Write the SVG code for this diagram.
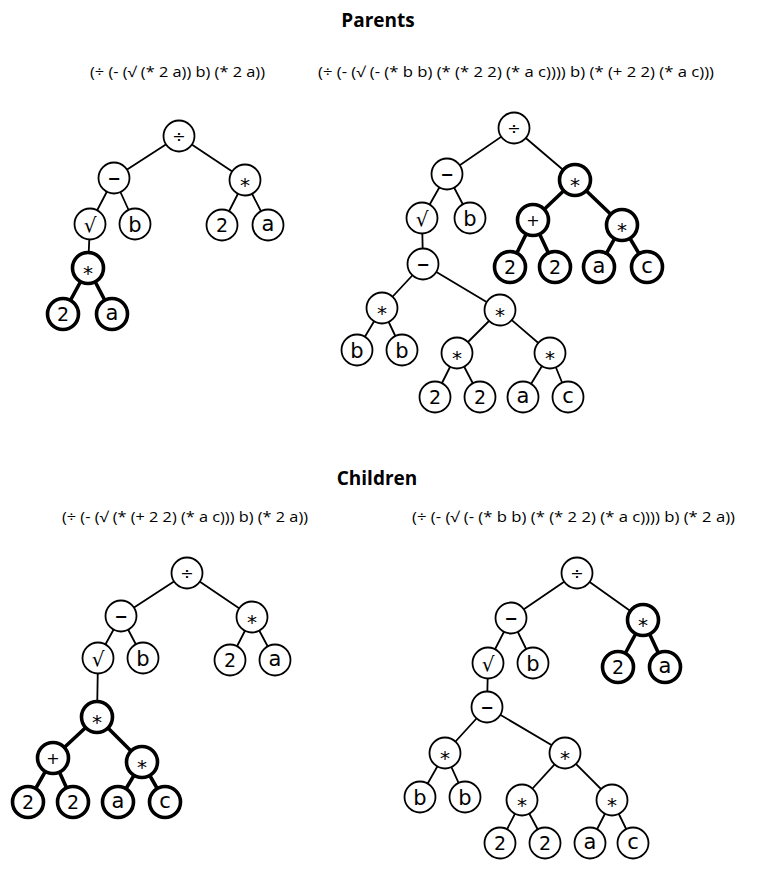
<svg xmlns="http://www.w3.org/2000/svg" width="763" height="876" viewBox="0 0 763 876">
<style>
.title{font-family:"Open Sans","Liberation Sans",sans-serif;font-weight:bold;font-size:19px;text-anchor:middle;fill:#000}
.expr{font-family:"Open Sans","Liberation Sans",sans-serif;font-size:14px;fill:#000}
.e line{stroke:#000;stroke-width:1.8;stroke-linecap:round}
.e line.b{stroke-width:3.6}
.n{stroke-width:1.8}
.n.b{stroke-width:3.6}
.nc{fill:#fff;stroke:#000}
.nt{font-family:"DejaVu Sans",sans-serif;text-anchor:middle;fill:#000;stroke:none}
.d{font-size:19px}
.l{font-size:21px}
.s{font-size:20px}
.o{font-size:16px}
.r{font-size:20px}
</style>
<defs>
<g id="k2"><circle class="nc" r="15.5"/><text class="nt d" y="7">2</text></g>
<g id="ka"><circle class="nc" r="15.5"/><text class="nt l" y="6">a</text></g>
<g id="kb"><circle class="nc" r="15.5"/><text class="nt l" y="7.5">b</text></g>
<g id="kc"><circle class="nc" r="15.5"/><text class="nt l" y="6">c</text></g>
<g id="kmul"><circle class="nc" r="15.5"/><text class="nt s" y="12">*</text></g>
<g id="kdiv"><circle class="nc" r="15.5"/><text class="nt o" y="5.5">÷</text></g>
<g id="ksub"><circle class="nc" r="15.5"/><text class="nt o" y="5.5" font-weight="bold">−</text></g>
<g id="kadd"><circle class="nc" r="15.5"/><text class="nt o" y="5.5">+</text></g>
<g id="ksqrt"><circle class="nc" r="15.5"/><text class="nt r" y="7.5">√</text></g>
</defs>
<rect width="763" height="876" fill="#fff"/>

<text class="title" x="378" y="27">Parents</text>
<text class="expr" x="90" y="77" textLength="175" lengthAdjust="spacingAndGlyphs">(÷ (- (√ (* 2 a)) b) (* 2 a))</text>
<text class="expr" x="318" y="77" textLength="396" lengthAdjust="spacingAndGlyphs">(÷ (- (√ (- (* b b) (* (* 2 2) (* a c)))) b) (* (+ 2 2) (* a c)))</text>
<text class="title" x="377" y="485">Children</text>
<text class="expr" x="62" y="522" textLength="246" lengthAdjust="spacingAndGlyphs">(÷ (- (√ (* (+ 2 2) (* a c))) b) (* 2 a))</text>
<text class="expr" x="412" y="522" textLength="323" lengthAdjust="spacingAndGlyphs">(÷ (- (√ (- (* b b) (* (* 2 2) (* a c)))) b) (* 2 a))</text>

<g id="connectors" class="e">
<line x1="179" y1="136" x2="114" y2="178"/>
<line x1="179" y1="136" x2="245" y2="180"/>
<line x1="114" y1="178" x2="90" y2="224"/>
<line x1="114" y1="178" x2="135" y2="224"/>
<line x1="245" y1="180" x2="222" y2="225"/>
<line x1="245" y1="180" x2="268" y2="225"/>
<line x1="90" y1="224" x2="88" y2="268"/>
<line class="b" x1="88" y1="268" x2="63" y2="314"/>
<line class="b" x1="88" y1="268" x2="112" y2="314"/>
<line x1="514" y1="128" x2="447" y2="174"/>
<line x1="514" y1="128" x2="575" y2="180"/>
<line x1="447" y1="174" x2="422" y2="218"/>
<line x1="447" y1="174" x2="470" y2="218"/>
<line class="b" x1="575" y1="180" x2="533" y2="220"/>
<line class="b" x1="575" y1="180" x2="622" y2="225"/>
<line class="b" x1="533" y1="220" x2="510" y2="267"/>
<line class="b" x1="533" y1="220" x2="555" y2="267"/>
<line class="b" x1="622" y1="225" x2="599" y2="267"/>
<line class="b" x1="622" y1="225" x2="647" y2="267"/>
<line x1="422" y1="218" x2="423" y2="264"/>
<line x1="423" y1="264" x2="382" y2="308"/>
<line x1="423" y1="264" x2="500" y2="310"/>
<line x1="382" y1="308" x2="357" y2="350"/>
<line x1="382" y1="308" x2="402" y2="350"/>
<line x1="500" y1="310" x2="457" y2="353"/>
<line x1="500" y1="310" x2="550" y2="353"/>
<line x1="457" y1="353" x2="435" y2="397"/>
<line x1="457" y1="353" x2="480" y2="397"/>
<line x1="550" y1="353" x2="523" y2="397"/>
<line x1="550" y1="353" x2="568" y2="397"/>
<line x1="187" y1="573" x2="121" y2="616"/>
<line x1="187" y1="573" x2="252" y2="617"/>
<line x1="121" y1="616" x2="98" y2="658"/>
<line x1="121" y1="616" x2="143" y2="658"/>
<line x1="252" y1="617" x2="230" y2="660"/>
<line x1="252" y1="617" x2="275" y2="660"/>
<line x1="98" y1="658" x2="97" y2="717"/>
<line class="b" x1="97" y1="717" x2="53" y2="758"/>
<line class="b" x1="97" y1="717" x2="142" y2="762"/>
<line class="b" x1="53" y1="758" x2="28" y2="802"/>
<line class="b" x1="53" y1="758" x2="73" y2="802"/>
<line class="b" x1="142" y1="762" x2="118" y2="802"/>
<line class="b" x1="142" y1="762" x2="165" y2="802"/>
<line x1="577" y1="573" x2="511" y2="618"/>
<line x1="577" y1="573" x2="643" y2="620"/>
<line x1="511" y1="618" x2="488" y2="663"/>
<line x1="511" y1="618" x2="533" y2="663"/>
<line class="b" x1="643" y1="620" x2="618" y2="667"/>
<line class="b" x1="643" y1="620" x2="665" y2="667"/>
<line x1="488" y1="663" x2="487" y2="707"/>
<line x1="487" y1="707" x2="445" y2="753"/>
<line x1="487" y1="707" x2="565" y2="753"/>
<line x1="445" y1="753" x2="420" y2="797"/>
<line x1="445" y1="753" x2="465" y2="797"/>
<line x1="565" y1="753" x2="522" y2="800"/>
<line x1="565" y1="753" x2="612" y2="800"/>
<line x1="522" y1="800" x2="500" y2="843"/>
<line x1="522" y1="800" x2="545" y2="843"/>
<line x1="612" y1="800" x2="590" y2="843"/>
<line x1="612" y1="800" x2="633" y2="843"/>
</g>

<g id="p1-div" class="n" transform="translate(179,136)"><use href="#kdiv"/></g>
<g id="p1-sub" class="n" transform="translate(114,178)"><use href="#ksub"/></g>
<g id="p1-mul" class="n" transform="translate(245,180)"><use href="#kmul"/></g>
<g id="p1-sqrt" class="n" transform="translate(90,224)"><use href="#ksqrt"/></g>
<g id="p1-b" class="n" transform="translate(135,224)"><use href="#kb"/></g>
<g id="p1-2" class="n" transform="translate(222,225)"><use href="#k2"/></g>
<g id="p1-a" class="n" transform="translate(268,225)"><use href="#ka"/></g>
<g id="p1-mul2" class="n b" transform="translate(88,268)"><use href="#kmul"/></g>
<g id="p1-2b" class="n b" transform="translate(63,314)"><use href="#k2"/></g>
<g id="p1-ab" class="n b" transform="translate(112,314)"><use href="#ka"/></g>

<g id="p2-div" class="n" transform="translate(514,128)"><use href="#kdiv"/></g>
<g id="p2-sub" class="n" transform="translate(447,174)"><use href="#ksub"/></g>
<g id="p2-mulR" class="n b" transform="translate(575,180)"><use href="#kmul"/></g>
<g id="p2-sqrt" class="n" transform="translate(422,218)"><use href="#ksqrt"/></g>
<g id="p2-b" class="n" transform="translate(470,218)"><use href="#kb"/></g>
<g id="p2-add" class="n b" transform="translate(533,220)"><use href="#kadd"/></g>
<g id="p2-mulac" class="n b" transform="translate(622,225)"><use href="#kmul"/></g>
<g id="p2-2a" class="n b" transform="translate(510,267)"><use href="#k2"/></g>
<g id="p2-2b" class="n b" transform="translate(555,267)"><use href="#k2"/></g>
<g id="p2-aR" class="n b" transform="translate(599,267)"><use href="#ka"/></g>
<g id="p2-cR" class="n b" transform="translate(647,267)"><use href="#kc"/></g>
<g id="p2-sub2" class="n" transform="translate(423,264)"><use href="#ksub"/></g>
<g id="p2-mulbb" class="n" transform="translate(382,308)"><use href="#kmul"/></g>
<g id="p2-mulM" class="n" transform="translate(500,310)"><use href="#kmul"/></g>
<g id="p2-b1" class="n" transform="translate(357,350)"><use href="#kb"/></g>
<g id="p2-b2" class="n" transform="translate(402,350)"><use href="#kb"/></g>
<g id="p2-mul22" class="n" transform="translate(457,353)"><use href="#kmul"/></g>
<g id="p2-mulac2" class="n" transform="translate(550,353)"><use href="#kmul"/></g>
<g id="p2-21" class="n" transform="translate(435,397)"><use href="#k2"/></g>
<g id="p2-22" class="n" transform="translate(480,397)"><use href="#k2"/></g>
<g id="p2-a" class="n" transform="translate(523,397)"><use href="#ka"/></g>
<g id="p2-c" class="n" transform="translate(568,397)"><use href="#kc"/></g>

<g id="c1-div" class="n" transform="translate(187,573)"><use href="#kdiv"/></g>
<g id="c1-sub" class="n" transform="translate(121,616)"><use href="#ksub"/></g>
<g id="c1-mul" class="n" transform="translate(252,617)"><use href="#kmul"/></g>
<g id="c1-sqrt" class="n" transform="translate(98,658)"><use href="#ksqrt"/></g>
<g id="c1-b" class="n" transform="translate(143,658)"><use href="#kb"/></g>
<g id="c1-2" class="n" transform="translate(230,660)"><use href="#k2"/></g>
<g id="c1-a" class="n" transform="translate(275,660)"><use href="#ka"/></g>
<g id="c1-mulB" class="n b" transform="translate(97,717)"><use href="#kmul"/></g>
<g id="c1-add" class="n b" transform="translate(53,758)"><use href="#kadd"/></g>
<g id="c1-mulac" class="n b" transform="translate(142,762)"><use href="#kmul"/></g>
<g id="c1-21" class="n b" transform="translate(28,802)"><use href="#k2"/></g>
<g id="c1-22" class="n b" transform="translate(73,802)"><use href="#k2"/></g>
<g id="c1-aB" class="n b" transform="translate(118,802)"><use href="#ka"/></g>
<g id="c1-cB" class="n b" transform="translate(165,802)"><use href="#kc"/></g>

<g id="c2-div" class="n" transform="translate(577,573)"><use href="#kdiv"/></g>
<g id="c2-sub" class="n" transform="translate(511,618)"><use href="#ksub"/></g>
<g id="c2-mulB" class="n b" transform="translate(643,620)"><use href="#kmul"/></g>
<g id="c2-sqrt" class="n" transform="translate(488,663)"><use href="#ksqrt"/></g>
<g id="c2-b" class="n" transform="translate(533,663)"><use href="#kb"/></g>
<g id="c2-2B" class="n b" transform="translate(618,667)"><use href="#k2"/></g>
<g id="c2-aB" class="n b" transform="translate(665,667)"><use href="#ka"/></g>
<g id="c2-sub2" class="n" transform="translate(487,707)"><use href="#ksub"/></g>
<g id="c2-mulbb" class="n" transform="translate(445,753)"><use href="#kmul"/></g>
<g id="c2-mulM" class="n" transform="translate(565,753)"><use href="#kmul"/></g>
<g id="c2-b1" class="n" transform="translate(420,797)"><use href="#kb"/></g>
<g id="c2-b2" class="n" transform="translate(465,797)"><use href="#kb"/></g>
<g id="c2-mul22" class="n" transform="translate(522,800)"><use href="#kmul"/></g>
<g id="c2-mulac" class="n" transform="translate(612,800)"><use href="#kmul"/></g>
<g id="c2-21" class="n" transform="translate(500,843)"><use href="#k2"/></g>
<g id="c2-22" class="n" transform="translate(545,843)"><use href="#k2"/></g>
<g id="c2-a" class="n" transform="translate(590,843)"><use href="#ka"/></g>
<g id="c2-c" class="n" transform="translate(633,843)"><use href="#kc"/></g>
</svg>
